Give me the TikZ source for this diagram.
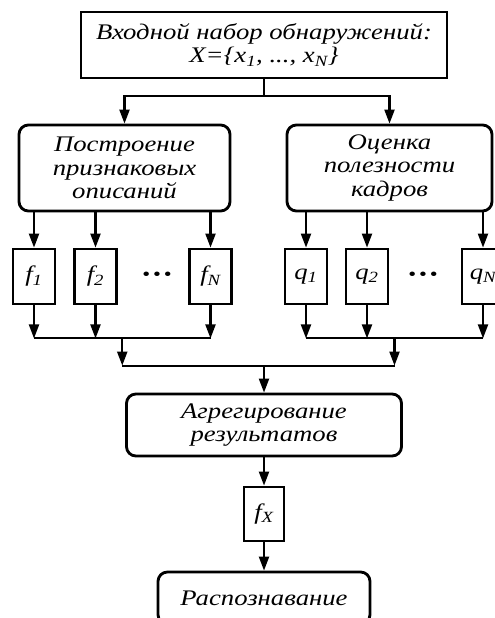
\documentclass[tikz,border=0pt]{standalone}
\usepackage{fontspec}
\setmainfont{Liberation Serif}[FakeStretch=1.2]
\usetikzlibrary{positioning,calc,arrows.meta}

\begin{document}
\begin{tikzpicture}[on grid,
            box/.style={draw,line width=2.4pt,align=center,inner sep=0pt,
                font=\fontsize{19}{20}\selectfont\itshape},
            stage/.style={box,rounded corners=8pt},
            feat/.style={box,minimum width=1.26cm,minimum height=1.65cm},
            dots/.style={font=\fontsize{16}{16}\selectfont},
            link/.style={line width=1.8pt},
            arr/.style={link,-{Triangle[length=0.42cm,width=0.3cm]}}
        ]
            \useasboundingbox (0,0) rectangle (14.85,-18.54);
            \node[box,minimum width=10.98cm,minimum height=1.98cm] (inp) at (7.92,-1.35)
                {Входной набор обнаружений:\\X=\{x\textsubscript{1}, ..., x\textsubscript{N}\}};
            \node[stage,minimum width=6.33cm,minimum height=2.58cm,below left=3.69cm and 4.185cm of inp] (build)
                {Построение\\признаковых\\описаний};
            \node[stage,minimum width=6.15cm,minimum height=2.58cm,below right=3.69cm and 3.765cm of inp] (qual)
                {Оценка\\полезности\\кадров};
            % feature vectors and quality scores
            \node[feat,below left=3.255cm and 2.715cm of build] (f1) {f\textsubscript{1}};
            \node[feat,right=1.845cm of f1] (f2) {f\textsubscript{2}};
            \node[dots,right=1.845cm of f2] (dl) {\textbullet\hspace{2.5pt}\textbullet\hspace{2.5pt}\textbullet};
            \node[feat,right=3.45cm of f2] (fN) {f\textsubscript{N}};
            \node[feat,right=2.865cm of fN] (q1) {q\textsubscript{1}};
            \node[feat,right=1.83cm of q1] (q2) {q\textsubscript{2}};
            \node[dots,right=1.68cm of q2] (dr) {\textbullet\hspace{2.5pt}\textbullet\hspace{2.5pt}\textbullet};
            \node[feat,right=3.48cm of q2] (qN) {q\textsubscript{N}};
            \node[stage,minimum width=8.25cm,minimum height=1.86cm,below=11.4cm of inp] (agg)
                {Агрегирование\\результатов};
            \node[feat,minimum width=1.2cm,minimum height=1.62cm,below=2.67cm of agg] (fX) {f\textsubscript{X}};
            \node[stage,minimum width=6.36cm,minimum height=1.56cm,below=2.52cm of fX] (rec) {Распознавание};
            % connectors
            \coordinate[below=0.51cm of inp.south] (s0);
            \coordinate[below=0.99cm of f1.south] (b);
            \coordinate[above=0.81cm of agg.north] (m);
            \coordinate (jl) at ($(f1 |- b)!0.5!(fN |- b)$);
            \coordinate (jr) at ($(q1 |- b)!0.5!(qN |- b)$);
            \draw[link] (inp) -- (s0);
            \draw[arr] (s0) -| (build);
            \draw[arr] (s0) -| (qual);
            \foreach \n/\s in {f1/build,f2/build,fN/build,q1/qual,q2/qual,qN/qual}
                \draw[arr] (\s.south -| \n) -- (\n);
            \foreach \n in {f1,f2,fN,q1,q2,qN}
                \draw[arr] (\n) -- (\n |- b);
            \draw[link] (f1 |- b) -- (fN |- b);
            \draw[link] (q1 |- b) -- (qN |- b);
            \draw[arr] (jl) -- (jl |- m);
            \draw[arr] (jr) -- (jr |- m);
            \draw[link] (jl |- m) -- (jr |- m);
            \draw[arr] (m) -- (agg);
            \draw[arr] (agg) -- (fX);
            \draw[arr] (fX) -- (rec);
        \end{tikzpicture}
\end{document}
